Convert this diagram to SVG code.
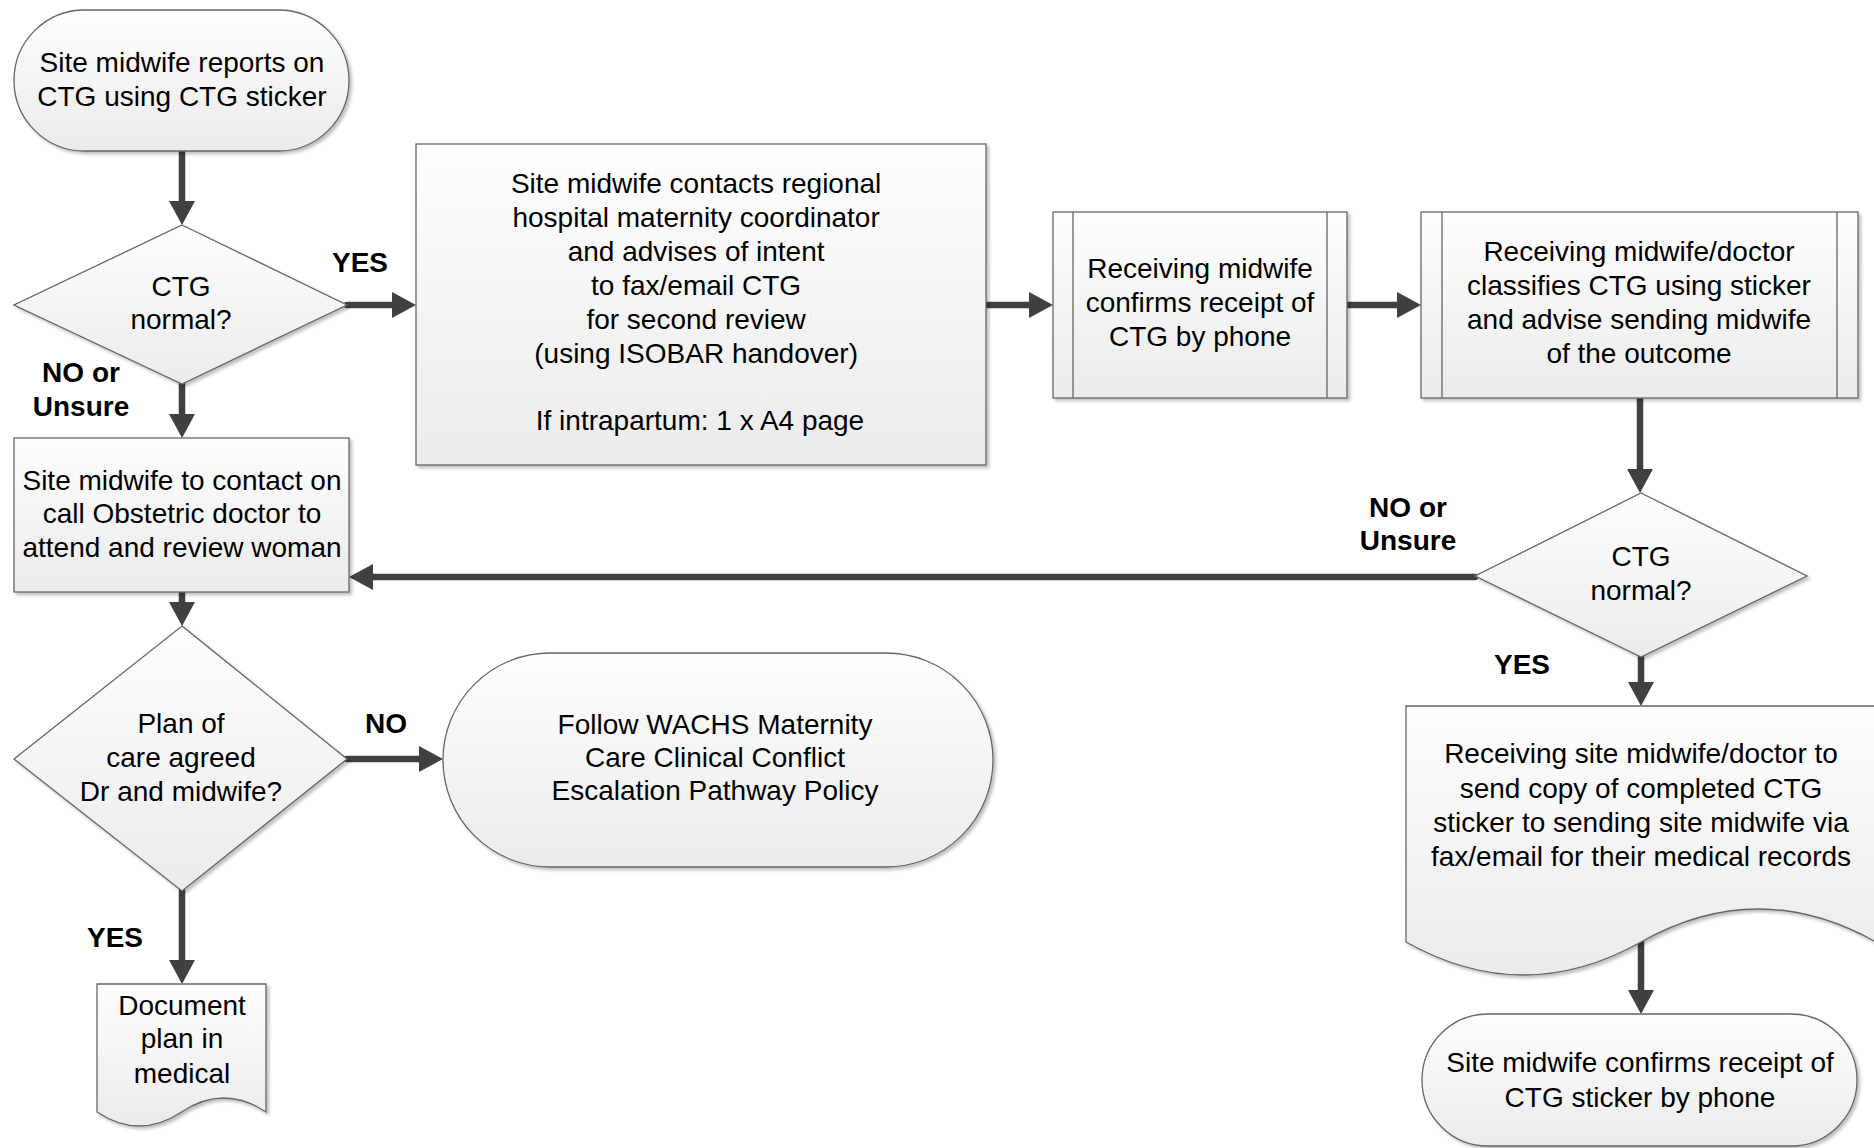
<svg xmlns="http://www.w3.org/2000/svg" width="1874" height="1148" viewBox="0 0 1874 1148">
<defs>
  <linearGradient id="g" x1="0" y1="0" x2="0" y2="1">
    <stop offset="0" stop-color="#fefefe"/>
    <stop offset="1" stop-color="#ebebeb"/>
  </linearGradient>
  <filter id="sh" x="-5%" y="-5%" width="115%" height="115%">
    <feDropShadow dx="2.5" dy="2.5" stdDeviation="1.5" flood-color="#000" flood-opacity="0.25"/>
  </filter>
  <marker id="ah" markerUnits="userSpaceOnUse" markerWidth="26" markerHeight="26" viewBox="0 0 26 26" refX="0" refY="13" orient="auto">
    <path d="M0,0 L24,13 L0,26 z" fill="#404040"/>
  </marker>
</defs>
<style>
  .s{fill:url(#g);stroke:#666;stroke-width:1.3;filter:url(#sh)}
  .ln{fill:none;stroke:#666;stroke-width:1.3}
  .t{font-family:"Liberation Sans",Arial,sans-serif;font-size:28px;fill:#000;text-anchor:middle}
  .l{font-family:"Liberation Sans",Arial,sans-serif;font-size:28px;font-weight:bold;fill:#000}
  .c{stroke:#404040;stroke-width:6.5;fill:none;stroke-linecap:round;marker-end:url(#ah)}
</style>

<g id="connectors">
  <path class="c" d="M182,151 L182,201"/>
  <path class="c" d="M347,305 L392,305"/>
  <path class="c" d="M182,384 L182,414"/>
  <path class="c" d="M986,305 L1029,305"/>
  <path class="c" d="M1347,305 L1397,305"/>
  <path class="c" d="M1640,398 L1640,469"/>
  <path class="c" d="M1475,577 L373,577"/>
  <path class="c" d="M182,592 L182,602"/>
  <path class="c" d="M347,759 L419,759"/>
  <path class="c" d="M182,891 L182,960"/>
  <path class="c" d="M1641,657 L1641,682"/>
  <path class="c" d="M1641,942 L1641,990"/>
  <text class="l" x="332" y="272">YES</text>
  <text class="l" x="81" y="382" text-anchor="middle">NO or</text>
  <text class="l" x="81" y="416" text-anchor="middle">Unsure</text>
  <text class="l" x="365" y="733">NO</text>
  <text class="l" x="87" y="947">YES</text>
  <text class="l" x="1408" y="517" text-anchor="middle">NO or</text>
  <text class="l" x="1408" y="550" text-anchor="middle">Unsure</text>
  <text class="l" x="1494" y="674">YES</text>
</g>

<g id="start">
  <rect class="s" x="14" y="10" width="335" height="141" rx="70.5"/>
  <text class="t"><tspan x="182" y="72">Site midwife reports on</tspan><tspan x="182" y="106">CTG using CTG sticker</tspan></text>
</g>

<g id="decision1">
  <polygon class="s" points="182,225 347,305 182,384 14,305"/>
  <text class="t"><tspan x="181" y="296">CTG</tspan><tspan x="181" y="329">normal?</tspan></text>
</g>

<g id="contact_coordinator">
  <rect class="s" x="416" y="144" width="570" height="321"/>
  <text class="t">
    <tspan x="700" y="193">Site midwife contacts regional</tspan>
    <tspan x="700" y="227">hospital maternity coordinator</tspan>
    <tspan x="700" y="261">and advises of intent</tspan>
    <tspan x="700" y="295">to fax/email CTG</tspan>
    <tspan x="700" y="329">for second review</tspan>
    <tspan x="700" y="363">(using ISOBAR handover)</tspan>
    <tspan x="700" y="430">If intrapartum: 1 x A4 page</tspan>
  </text>
</g>

<g id="confirm_receipt">
  <rect class="s" x="1053" y="212" width="294" height="186"/>
  <path class="ln" d="M1073,212 V398 M1327,212 V398"/>
  <text class="t"><tspan x="1200" y="278">Receiving midwife</tspan><tspan x="1200" y="312">confirms receipt of</tspan><tspan x="1200" y="346">CTG by phone</tspan></text>
</g>

<g id="classify">
  <rect class="s" x="1421" y="212" width="437" height="186"/>
  <path class="ln" d="M1442,212 V398 M1837,212 V398"/>
  <text class="t"><tspan x="1639" y="261">Receiving midwife/doctor</tspan><tspan x="1639" y="295">classifies CTG using sticker</tspan><tspan x="1639" y="329">and advise sending midwife</tspan><tspan x="1639" y="363">of the outcome</tspan></text>
</g>

<g id="decision3">
  <polygon class="s" points="1641,493 1807,576 1641,657 1475,576"/>
  <text class="t"><tspan x="1641" y="566">CTG</tspan><tspan x="1641" y="600">normal?</tspan></text>
</g>

<g id="contact_doctor">
  <rect class="s" x="14" y="438" width="335" height="154"/>
  <text class="t"><tspan x="182" y="490">Site midwife to contact on</tspan><tspan x="182" y="523">call Obstetric doctor to</tspan><tspan x="182" y="557">attend and review woman</tspan></text>
</g>

<g id="decision2">
  <polygon class="s" points="182,626 347,759 182,891 14,759"/>
  <text class="t"><tspan x="181" y="733">Plan of</tspan><tspan x="181" y="767">care agreed</tspan><tspan x="181" y="801">Dr and midwife?</tspan></text>
</g>

<g id="escalation">
  <rect class="s" x="443" y="653" width="550" height="214" rx="107"/>
  <text class="t"><tspan x="715" y="734">Follow WACHS Maternity</tspan><tspan x="715" y="767">Care Clinical Conflict</tspan><tspan x="715" y="800">Escalation Pathway Policy</tspan></text>
</g>

<g id="document_plan">
  <path class="s" d="M97,984 L266,984 L266,1112 Q223.75,1084 181.5,1112 Q139.25,1140 97,1112 Z"/>
  <text class="t"><tspan x="182" y="1015">Document</tspan><tspan x="182" y="1048">plan in</tspan><tspan x="182" y="1083">medical</tspan></text>
</g>

<g id="send_copy">
  <path class="s" d="M1406,706 L1876,706 L1876,942 Q1758.5,876 1641,942 Q1523.5,1008 1406,942 Z"/>
  <text class="t"><tspan x="1641" y="763">Receiving site midwife/doctor to</tspan><tspan x="1641" y="798">send copy of completed CTG</tspan><tspan x="1641" y="832">sticker to sending site midwife via</tspan><tspan x="1641" y="866">fax/email for their medical records</tspan></text>
</g>

<g id="end">
  <rect class="s" x="1422" y="1014" width="435" height="132" rx="66"/>
  <text class="t"><tspan x="1640" y="1072">Site midwife confirms receipt of</tspan><tspan x="1640" y="1107">CTG sticker by phone</tspan></text>
</g>
</svg>
